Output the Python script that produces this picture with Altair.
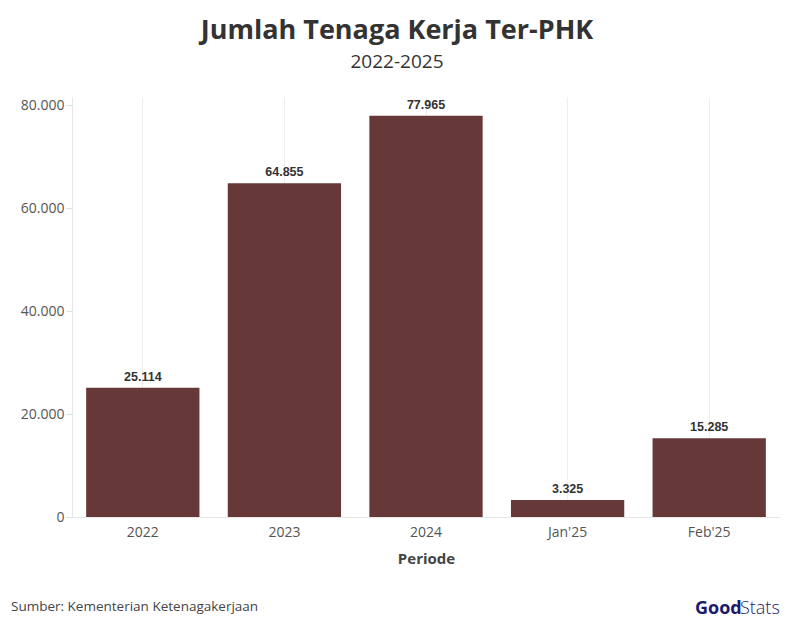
import altair as alt
import pandas as pd

periods = ["2022", "2023", "2024", "Jan'25", "Feb'25"]
values = [25114, 64855, 77965, 3325, 15285]
y_ticks = [0, 20000, 40000, 60000, 80000]

df = pd.DataFrame({"Periode": periods, "Jumlah": values})

FONT = "Open Sans"
BAR = "#673838"

base = alt.Chart(df).encode(
    x=alt.X(
        "Periode:N",
        sort=periods,
        scale=alt.Scale(paddingInner=0.2, paddingOuter=0.1),
        axis=alt.Axis(
            title="Periode", labelAngle=0, ticks=False, labelPadding=8,
            labelFontSize=14, labelColor="#555555", labelFont=FONT,
            titleFontSize=15, titleFontWeight="bold", titleColor="#444444",
            titleFont=FONT, titlePadding=12,
            grid=True, gridColor="#eeeeee", domainColor="#e6e6e6",
        ),
    ),
    y=alt.Y(
        "Jumlah:Q",
        scale=alt.Scale(domain=[0, 81600], nice=False),
        axis=alt.Axis(
            title=None, values=y_ticks,
            labelExpr="replace(format(datum.value, ','), ',', '.')",
            labelFontSize=14, labelColor="#555555", labelFont=FONT,
            tickSize=6, tickColor="#dddddd", labelPadding=2,
            grid=False, domainColor="#e6e6e6",
        ),
    ),
)

bars = base.mark_bar(color=BAR)

labels = base.transform_calculate(
    lbl="replace(format(datum.Jumlah, ','), ',', '.')"
).mark_text(
    baseline="bottom", dy=-4, font="Liberation Sans", fontSize=12.5, fontWeight="bold", color="#333333"
).encode(text="lbl:N")

note_df = pd.DataFrame({"t": ["Sumber: Kementerian Ketenagakerjaan"]})
note = alt.Chart(note_df).mark_text(
    align="left", baseline="middle", font=FONT, fontSize=13.5, color="#444444"
).encode(x=alt.value(-61), y=alt.value(510), text="t:N")

good_df = pd.DataFrame({"t": ["Good"]})
good = alt.Chart(good_df).mark_text(
    align="left", baseline="middle", font=FONT, fontSize=18, fontWeight="bold", color="#1c1a6b"
).encode(x=alt.value(623), y=alt.value(512), text="t:N")

stats_df = pd.DataFrame({"t": ["Stats"]})
stats = alt.Chart(stats_df).mark_text(
    align="left", baseline="middle", font=FONT, fontSize=18, fontWeight=300, color="#1c1a6b"
).encode(x=alt.value(668), y=alt.value(512), text="t:N")

chart = alt.layer(bars, labels, note, good, stats).properties(
    width=708,
    height=420,
    title=alt.TitleParams(
        text="Jumlah Tenaga Kerja Ter-PHK",
        subtitle="2022-2025",
        anchor="middle",
        dx=-29,
        offset=24,
        font=FONT,
        fontSize=27,
        fontWeight="bold",
        color="#333333",
        subtitleFont=FONT,
        subtitleFontSize=19,
        subtitleColor="#333333",
        subtitlePadding=8,
    ),
    autosize=alt.AutoSizeParams(type="none"),
    padding={"left": 64, "top": 89, "right": 6, "bottom": 107},
).configure_view(stroke=None)

chart.save("out.html", embed_options={"renderer": "svg", "actions": False})
